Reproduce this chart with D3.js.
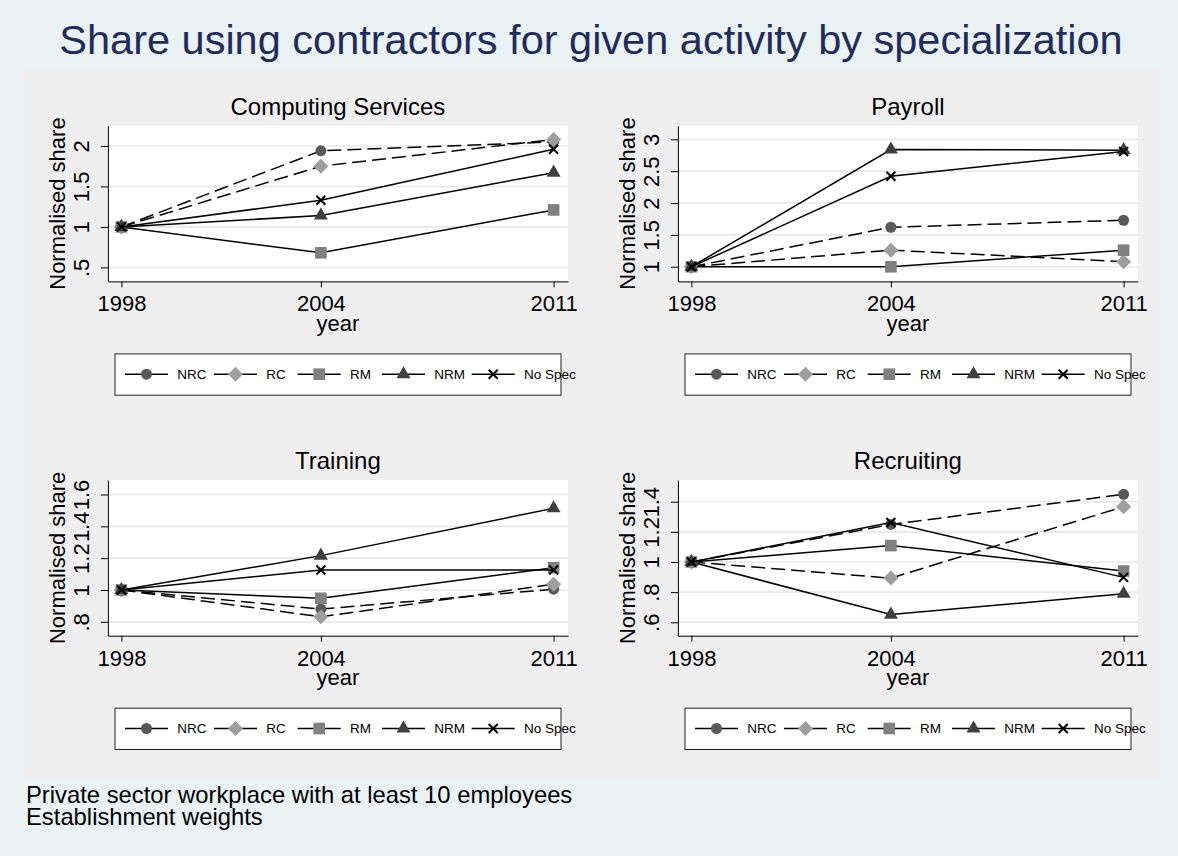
<!DOCTYPE html>
<html><head><meta charset="utf-8">
<script src="https://cdn.jsdelivr.net/npm/d3@7"></script>
<style>html,body{margin:0;padding:0;background:#EAF2F3;}svg{display:block;font-family:"Liberation Sans",Arial,Helvetica,sans-serif;}</style>
</head><body>
<script>
// ---- data ----
const years = [1998, 2004, 2011];
const seriesNames = ["NRC", "RC", "RM", "NRM", "No Spec"];
const panelTitles = ["Computing Services", "Payroll", "Training", "Recruiting"];

// values per series in order NRC, RC, RM, NRM, No Spec
const computingServices = [[1, 1.94, 2.05], [1, 1.75, 2.08], [1, 0.68, 1.21], [1, 1.14, 1.67], [1, 1.33, 1.96]];
const payroll = [[1, 1.62, 1.73], [1, 1.26, 1.08], [1, 1.0, 1.26], [1, 2.84, 2.83], [1, 2.42, 2.81]];
const training = [[1, 0.88, 1.005], [1, 0.832, 1.036], [1, 0.948, 1.14], [1, 1.216, 1.513], [1, 1.126, 1.126]];
const recruiting = [[1, 1.249, 1.449], [1, 0.893, 1.367], [1, 1.109, 0.94], [1, 0.651, 0.789], [1, 1.262, 0.898]];

const computingTicks = [0.5, 1, 1.5, 2];
const payrollTicks = [1, 1.5, 2, 2.5, 3];
const trainingTicks = [0.8, 1, 1.2, 1.4, 1.6];
const recruitingTicks = [0.6, 0.8, 1, 1.2, 1.4];

const computingDomain = [0.327, 2.25];
const payrollDomain = [0.77, 3.214];
const trainingDomain = [0.713, 1.691];
const recruitingDomain = [0.511, 1.544];
const xDomain = [1997.594, 2011.43];

const mainTitle = "Share using contractors for given activity by specialization";
const yTitle = "Normalised share";
const xTitle = "year";
const notes = ["Private sector workplace with at least 10 employees", "Establishment weights"];

// ---- styles ----
const markerFill = ["#595959", "#9E9E9E", "#808080", "#404040", "#000"];
const dashed = [true, true, false, false, false];
const markerType = ["circle", "diamond", "square", "triangle", "x"];

const W = 1178, H = 856;
const svg = d3.select("body").append("svg").attr("width", W).attr("height", H);
svg.append("rect").attr("width", W).attr("height", H).attr("fill", "#EAF2F3");
svg.append("rect").attr("x", 20).attr("y", 70).attr("width", 1142).attr("height", 709).attr("fill", "#EFEFEF");

svg.append("text").attr("x", 591).attr("y", 54).attr("text-anchor", "middle")
  .attr("font-size", 41.5).attr("fill", "#1F2C5C").text(mainTitle);

notes.forEach((t, i) => svg.append("text").attr("x", 26).attr("y", 803 + i * 22)
  .attr("font-size", 23.8).attr("fill", "#000").text(t));

function marker(g, type, x, y, fill) {
  if (type === "circle") g.append("circle").attr("cx", x).attr("cy", y).attr("r", 5.5).attr("fill", fill);
  else if (type === "diamond") { const h = 7.5; g.append("path").attr("d", `M${x},${y - h}L${x + h},${y}L${x},${y + h}L${x - h},${y}Z`).attr("fill", fill); }
  else if (type === "square") { const s = 5.8; g.append("rect").attr("x", x - s).attr("y", y - s).attr("width", 2 * s).attr("height", 2 * s).attr("fill", fill); }
  else if (type === "triangle") { const w = 7, hh = 12.1; g.append("path").attr("d", `M${x},${y - hh * 2 / 3}L${x + w},${y + hh / 3}L${x - w},${y + hh / 3}Z`).attr("fill", fill); }
  else { const a = 4.5; g.append("path").attr("d", `M${x - a},${y - a}L${x + a},${y + a}M${x - a},${y + a}L${x + a},${y - a}`).attr("stroke", fill).attr("stroke-width", 2).attr("fill", "none"); }
}

const fmt = v => { let s = d3.format("")(+v.toFixed(2)); return s.replace(/^0\./, "."); };

const panels = [
  { title: panelTitles[0], data: computingServices, ticks: computingTicks, domain: computingDomain },
  { title: panelTitles[1], data: payroll, ticks: payrollTicks, domain: payrollDomain },
  { title: panelTitles[2], data: training, ticks: trainingTicks, domain: trainingDomain },
  { title: panelTitles[3], data: recruiting, ticks: recruitingTicks, domain: recruitingDomain }
];

const pw = 460, ph = 155.7;
const legendKeys = [10, 99, 182.7, 267, 356.7];

panels.forEach((p, i) => {
  const col = i % 2, row = Math.floor(i / 2);
  const left = 107.9 + col * 570, top = 125.7 + row * 354.3;
  const g = svg.append("g").attr("transform", `translate(${left},${top})`);
  const x = d3.scaleLinear().domain(xDomain).range([0, pw]);
  const y = d3.scaleLinear().domain(p.domain).range([ph, 0]);

  g.append("rect").attr("width", pw).attr("height", ph).attr("fill", "#fff");
  g.selectAll(".grid").data(p.ticks).join("line")
    .attr("x1", 0).attr("x2", pw).attr("y1", d => y(d)).attr("y2", d => y(d))
    .attr("stroke", "#E8E8E8").attr("stroke-width", 1.6);

  const ax = g.append("g").attr("transform", `translate(0,${ph})`)
    .call(d3.axisBottom(x).tickValues(years).tickFormat(d3.format("d")).tickSize(6).tickSizeOuter(0));
  ax.selectAll("text").attr("y", 30).attr("dy", 0).attr("font-size", 22).attr("fill", "#000");

  const ay = g.append("g").call(d3.axisLeft(y).tickValues(p.ticks).tickFormat(fmt).tickSize(7).tickSizeOuter(0));
  ay.selectAll("text").attr("x", null).attr("dy", null).attr("text-anchor", "middle")
    .attr("transform", "translate(-19.4,0) rotate(-90)").attr("font-size", 22).attr("fill", "#000");
  [ax, ay].forEach(a => { a.selectAll("path,line").attr("stroke", "#000").attr("stroke-width", 1); a.attr("font-family", null); });

  g.append("text").attr("x", pw / 2).attr("y", ph + 49.5).attr("text-anchor", "middle").attr("font-size", 22).text(xTitle);
  g.append("text").attr("transform", `translate(-43,${ph / 2}) rotate(-90)`).attr("text-anchor", "middle").attr("font-size", 22).text(yTitle);
  g.append("text").attr("x", pw / 2).attr("y", -10.7).attr("text-anchor", "middle").attr("font-size", 24).text(p.title);

  const line = d3.line().x((d, k) => x(years[k])).y(d => y(d));
  p.data.forEach((vals, s) => {
    const sg = g.append("g");
    sg.append("path").attr("d", line(vals)).attr("fill", "none").attr("stroke", "#000").attr("stroke-width", 1.5)
      .attr("stroke-dasharray", dashed[s] ? "14,6" : null);
    vals.forEach((v, k) => marker(sg, markerType[s], x(years[k]), y(v), markerFill[s]));
  });

  // legend
  const lg = g.append("g").attr("transform", `translate(7.1,${ph + 72.5})`);
  lg.append("rect").attr("width", 446).attr("height", 41.3).attr("fill", "#fff").attr("stroke", "#222").attr("stroke-width", 1);
  seriesNames.forEach((n, s) => {
    const k = legendKeys[s], cy = 20.3;
    lg.append("line").attr("x1", k).attr("x2", k + 43).attr("y1", cy).attr("y2", cy).attr("stroke", "#000").attr("stroke-width", 1.5);
    marker(lg, markerType[s], k + 21.5, cy, markerFill[s]);
    lg.append("text").attr("x", k + 52.3).attr("y", cy + 5).attr("font-size", 13.5).text(n);
  });
});
</script>
</body></html>
